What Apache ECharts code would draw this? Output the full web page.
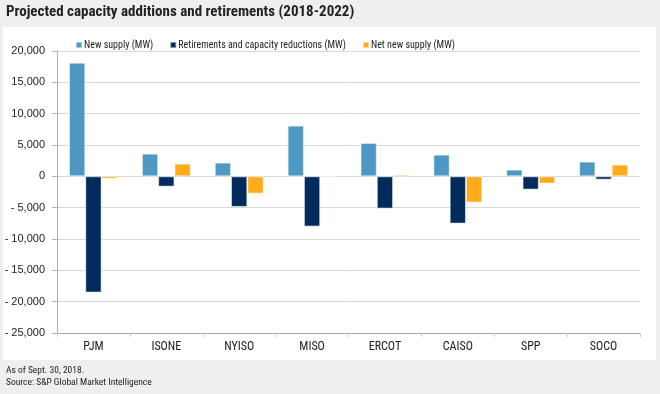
<!DOCTYPE html>
<html><head><meta charset="utf-8">
<script src="https://cdn.jsdelivr.net/npm/echarts@6/dist/echarts.min.js"></script>
<style>html,body{margin:0;padding:0;background:#efefef;}#c{width:660px;height:394px;}</style>
</head><body><div id="c"></div>
<script>
var categories = ['PJM','ISONE','NYISO','MISO','ERCOT','CAISO','SPP','SOCO'];
var newSupply = [18130, 3620, 2190, 8090, 5330, 3460, 1070, 2350];
var retirements = [-18550, -1640, -4880, -8020, -5150, -7540, -2120, -530];
var netNew = [-380, 2030, -2760, 70, 270, -4190, -1160, 1870];
var seriesNames = ['New supply (MW)', 'Retirements and capacity reductions (MW)', 'Net new supply (MW)'];
var yTicks = {min: -25000, max: 20000, interval: 5000};

var chart = echarts.init(document.getElementById('c'), null, {renderer: 'canvas'});
var narrow = '"Liberation Sans Narrow", "Roboto Condensed", "DejaVu Sans Condensed", sans-serif';
var arial = '"Liberation Sans", Arial, sans-serif';
function fmt(v){
  var s = Math.abs(v).toString().replace(/\B(?=(\d{3})+(?!\d))/g, ',');
  return v < 0 ? '- ' + s : s;
}
var colors = ['#4f98c3', '#002b5c', '#ffab1b'];
var datas = [newSupply, retirements, netNew];
chart.setOption({
  backgroundColor: '#efefef',
  animation: false,
  graphic: [
    {type: 'rect', shape: {x: 3, y: 27, width: 653, height: 333}, style: {fill: '#ffffff'}, z: -10},
    {type: 'text', left: 6, top: 5, style: {text: 'Projected capacity additions and retirements (2018-2022)', fill: '#222', font: 'bold 15px ' + narrow}},
    {type: 'text', left: 6, top: 365, style: {text: 'As of Sept. 30, 2018.\nSource: S&P Global Market Intelligence', fill: '#222', font: '9.5px ' + narrow, lineHeight: 12}}
  ],
  legend: {
    top: 35, left: 70, itemWidth: 6, itemHeight: 6, itemGap: 16,
    icon: 'rect',
    textStyle: {fontFamily: narrow, fontSize: 10, color: '#222', padding: [0,0,0,-3]},
    data: seriesNames
  },
  grid: {left: 57, right: 20, top: 51, bottom: 61},
  xAxis: [
    {type: 'category', data: categories, position: 'bottom',
     axisLine: {show: false}, axisTick: {show: false},
     axisLabel: {color: '#222', fontFamily: narrow, fontSize: 12, margin: 8}},
    {type: 'category', data: categories, position: 'bottom',
     axisLine: {show: true, onZero: true, lineStyle: {color: '#a6a6a6', width: 1}},
     axisTick: {show: true, length: 4, inside: false, lineStyle: {color: '#d0d0d0'}},
     axisLabel: {show: false}}
  ],
  yAxis: {
    type: 'value', min: yTicks.min, max: yTicks.max, interval: yTicks.interval,
    axisLine: {show: true, lineStyle: {color: '#b0b0b0'}},
    axisTick: {show: true, length: 5, lineStyle: {color: '#b0b0b0'}},
    splitLine: {lineStyle: {color: '#d9d9d9'}},
    axisLabel: {formatter: fmt, color: '#222', fontFamily: arial, fontSize: 11, margin: 12}
  },
  series: seriesNames.map(function(n, i){
    return {name: n, type: 'bar', data: datas[i], barGap: '0%', barCategoryGap: '33%',
      itemStyle: {color: colors[i], borderColor: 'rgba(255,255,255,0.5)', borderWidth: 1}};
  })
});
</script></body></html>
